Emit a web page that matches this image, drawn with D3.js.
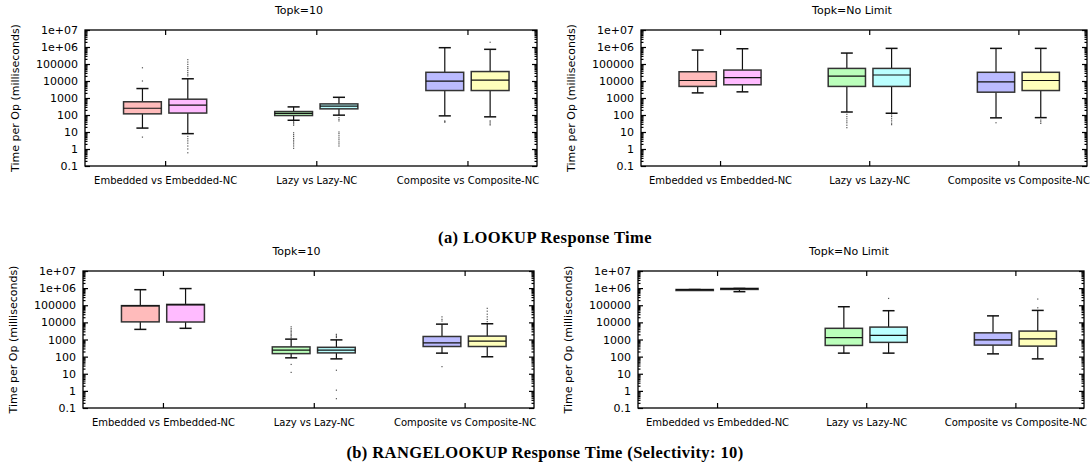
<!DOCTYPE html>
<html>
<head>
<meta charset="utf-8">
<script src="https://cdn.jsdelivr.net/npm/d3@7"></script>
<style>
  body { margin: 0; background: #fff; }
  svg { display: block; }
</style>
</head>
<body>
<div id="chart"></div>
<script>
// categories on the x axis and the two series drawn in each group
const categories = ["Embedded vs Embedded-NC", "Lazy vs Lazy-NC", "Composite vs Composite-NC"];
const seriesNames = ["Embedded", "Embedded-NC", "Lazy", "Lazy-NC", "Composite", "Composite-NC"];
const boxColors = ["#ffbbbb", "#ffbbff", "#bbffbb", "#bbffff", "#bbbbff", "#ffffbb"];

const yTicks = [0.1, 1, 10, 100, 1000, 10000, 100000, 1e6, 1e7];
const yTickLabels = ["0.1", "1", "10", "100", "1000", "10000", "100000", "1e+06", "1e+07"];

// box stats per series: [lower whisker, q1, median, q3, upper whisker]
const lookupTop10 = [
  [17, 117, 250, 600, 3600],
  [8, 130, 380, 850, 13500],
  [49, 93, 123, 160, 300],
  [98, 230, 330, 450, 1100],
  [89, 2750, 9800, 32500, 910000],
  [78, 2750, 11300, 36000, 730000]
];
const lookupTop10Outliers = [
  [60000, 10000, 5],
  [20000, 25000, 32000, 42000, 55000, 70000, 95000, 130000, 180000, 5.5, 4, 3, 2.2, 1.5, 1, 0.6],
  [40, 35, 30, 25, 9, 7, 5.5, 4.2, 3.3, 2.6, 2, 1.5, 1.1],
  [70, 55, 45, 10, 8, 6, 4.5, 3.5, 2.6, 2, 1.5],
  [45, 40, 38],
  [1900000, 45, 38, 30, 26]
];

const lookupNoLimit = [
  [2000, 4800, 10700, 35000, 660000],
  [2300, 6000, 16000, 44000, 790000],
  [150, 4800, 19500, 55000, 440000],
  [127, 4800, 22500, 55000, 830000],
  [68, 2200, 9000, 32500, 830000],
  [70, 2750, 10700, 32500, 830000]
];
const lookupNoLimitOutliers = [
  [],
  [],
  [110, 80, 60, 45, 35, 25, 18],
  [100, 80, 60, 45, 33, 27],
  [35],
  [50, 40, 32]
];

const rangeTop10 = [
  [3900, 10700, 93000, 95000, 810000],
  [4500, 10500, 105000, 112000, 940000],
  [85, 150, 240, 370, 1050],
  [74, 165, 240, 350, 950],
  [160, 390, 630, 1500, 7900],
  [98, 390, 800, 1580, 8300]
];
const rangeTop10Outliers = [
  [],
  [],
  [1200, 1400, 1700, 2000, 2400, 2900, 3500, 4300, 5500, 35, 12],
  [1300, 1500, 1800, 2000, 16, 1.1, 0.35],
  [12000, 15000, 21000, 26],
  [11000, 15000, 21000, 30000, 45000, 66000]
];

const rangeNoLimit = [
  [800000, 800000, 820000, 830000, 830000],
  [620000, 920000, 940000, 960000, 960000],
  [160, 450, 1300, 4500, 82000],
  [160, 680, 1750, 5300, 48000],
  [145, 470, 960, 2450, 24000],
  [74, 410, 1100, 3100, 50000]
];
const rangeNoLimitOutliers = [
  [],
  [],
  [],
  [250000],
  [],
  [230000, 71000]
];

const captions = ["(a) LOOKUP Response Time", "(b) RANGELOOKUP Response Time (Selectivity: 10)"];

const W = 1090, H = 465;
const sansFont = "DejaVu Sans, sans-serif";

const svg = d3.select("#chart").append("svg")
  .attr("width", W)
  .attr("height", H);

const panels = [
  { title: "Topk=10", stats: lookupTop10, outliers: lookupTop10Outliers, left: 85, right: 537, top: 30, bottom: 166 },
  { title: "Topk=No Limit", stats: lookupNoLimit, outliers: lookupNoLimitOutliers, left: 641, right: 1087, top: 30, bottom: 166 },
  { title: "Topk=10", stats: rangeTop10, outliers: rangeTop10Outliers, left: 83, right: 534, top: 271, bottom: 408 },
  { title: "Topk=No Limit", stats: rangeNoLimit, outliers: rangeNoLimitOutliers, left: 638, right: 1084, top: 271, bottom: 408 }
];

// minor ticks 2..9 inside every decade
let minorTicks = [];
for (let e = -1; e < 7; e++) {
  for (let m = 2; m <= 9; m++) minorTicks.push(m * Math.pow(10, e));
}

panels.forEach(drawPanel);

function drawPanel(p) {
  let g = svg.append("g");

  let x = d3.scaleLinear()
    .domain([0.47, 3.46])
    .range([p.left, p.right]);

  let y = d3.scaleLog()
    .domain([0.1, 1e7])
    .range([p.bottom, p.top]);

  let unit = x(1) - x(0);
  let boxHalf = unit * 0.125;
  let capHalf = unit * 0.04;

  // title (gnuplot puts it a bit left of the frame centre)
  g.append("text")
    .attr("x", (p.left + p.right) / 2 - 12)
    .attr("y", p.top - 16)
    .attr("text-anchor", "middle")
    .style("font-family", sansFont)
    .style("font-size", "11px")
    .text(p.title);

  // y label
  g.append("text")
    .attr("transform", "translate(" + (p.left - 70) + "," + ((p.top + p.bottom) / 2) + ") rotate(-90)")
    .attr("text-anchor", "middle")
    .attr("dy", "0.35em")
    .style("font-family", sansFont)
    .style("font-size", "11px")
    .text("Time per Op (milliseconds)");

  // axes: ticks point inward like gnuplot
  let yLeft = g.append("g")
    .attr("transform", "translate(" + p.left + ",0)")
    .call(d3.axisLeft(y).tickValues(yTicks).tickSize(-5).tickPadding(7)
      .tickFormat(function (d, i) { return yTickLabels[i]; }));
  yLeft.select(".domain").remove();
  yLeft.selectAll("text").style("font-family", sansFont).style("font-size", "11px").attr("fill", "#000");

  g.append("g")
    .attr("transform", "translate(" + p.left + ",0)")
    .call(d3.axisLeft(y).tickValues(minorTicks).tickSize(-2.5).tickFormat(""))
    .select(".domain").remove();

  g.append("g")
    .attr("transform", "translate(" + p.right + ",0)")
    .call(d3.axisRight(y).tickValues(yTicks).tickSize(-5).tickFormat(""))
    .select(".domain").remove();

  g.append("g")
    .attr("transform", "translate(" + p.right + ",0)")
    .call(d3.axisRight(y).tickValues(minorTicks).tickSize(-2.5).tickFormat(""))
    .select(".domain").remove();

  let xBottom = g.append("g")
    .attr("transform", "translate(0," + p.bottom + ")")
    .call(d3.axisBottom(x).tickValues([1, 2, 3]).tickSize(-5).tickPadding(11)
      .tickFormat(function (d) { return categories[d - 1]; }));
  xBottom.select(".domain").remove();
  xBottom.selectAll("text").style("font-family", sansFont).style("font-size", "10px").attr("fill", "#000");

  g.append("g")
    .attr("transform", "translate(0," + p.top + ")")
    .call(d3.axisTop(x).tickValues([1, 2, 3]).tickSize(-5).tickFormat(""))
    .select(".domain").remove();

  g.selectAll(".tick line").attr("stroke", "#000").attr("stroke-width", 1.2);

  // boxes
  let boxes = g.selectAll(".box")
    .data(p.stats)
    .enter().append("g")
      .attr("class", "box")
      .attr("transform", function (d, i) {
        let cat = Math.floor(i / 2) + 1;
        let off = i % 2 === 0 ? -0.15 : 0.15;
        return "translate(" + x(cat + off) + ",0)";
      });

  // whiskers
  boxes.append("line")
    .attr("x1", 0).attr("x2", 0)
    .attr("y1", function (d) { return y(d[0]); })
    .attr("y2", function (d) { return y(d[1]); })
    .attr("stroke", "#111").attr("stroke-width", 1.2);
  boxes.append("line")
    .attr("x1", 0).attr("x2", 0)
    .attr("y1", function (d) { return y(d[3]); })
    .attr("y2", function (d) { return y(d[4]); })
    .attr("stroke", "#111").attr("stroke-width", 1.2);
  boxes.append("line")
    .attr("x1", -capHalf).attr("x2", capHalf)
    .attr("y1", function (d) { return y(d[0]); })
    .attr("y2", function (d) { return y(d[0]); })
    .attr("stroke", "#111").attr("stroke-width", 1.5);
  boxes.append("line")
    .attr("x1", -capHalf).attr("x2", capHalf)
    .attr("y1", function (d) { return y(d[4]); })
    .attr("y2", function (d) { return y(d[4]); })
    .attr("stroke", "#111").attr("stroke-width", 1.5);

  boxes.append("rect")
    .attr("x", -boxHalf)
    .attr("width", boxHalf * 2)
    .attr("y", function (d) { return y(d[3]); })
    .attr("height", function (d) { return Math.max(y(d[1]) - y(d[3]), 1); })
    .attr("fill", function (d, i) { return boxColors[i]; })
    .attr("stroke", "#333")
    .attr("stroke-width", 1.5);

  boxes.append("line")
    .attr("x1", -boxHalf).attr("x2", boxHalf)
    .attr("y1", function (d) { return y(d[2]); })
    .attr("y2", function (d) { return y(d[2]); })
    .attr("stroke", "#111").attr("stroke-width", 1.2);

  // outliers
  boxes.each(function (d, i) {
    d3.select(this).selectAll(".out")
      .data(p.outliers[i])
      .enter().append("rect")
        .attr("class", "out")
        .attr("x", -0.6)
        .attr("y", function (v) { return y(v) - 0.6; })
        .attr("width", 1.2)
        .attr("height", 1.2)
        .attr("fill", "#555");
  });

  // frame
  g.append("rect")
    .attr("x", p.left)
    .attr("y", p.top)
    .attr("width", p.right - p.left)
    .attr("height", p.bottom - p.top)
    .attr("fill", "none")
    .attr("stroke", "#000")
    .attr("stroke-width", 1.3);
}

// sub-figure captions
svg.selectAll(".caption")
  .data(captions)
  .enter().append("text")
    .attr("class", "caption")
    .attr("x", W / 2)
    .attr("y", function (d, i) { return i === 0 ? 243 : 458; })
    .attr("text-anchor", "middle")
    .style("font-family", "Liberation Serif, serif")
    .style("font-weight", "bold")
    .style("font-size", "16.5px")
    .style("letter-spacing", "0.4px")
    .text(function (d) { return d; });
</script>
</body>
</html>
